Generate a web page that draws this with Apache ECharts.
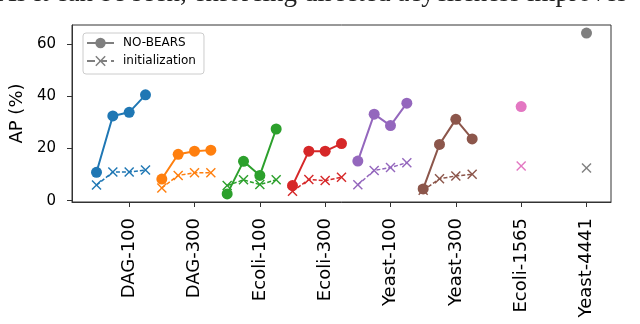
<!DOCTYPE html>
<html>
<head>
<meta charset="utf-8">
<script src="https://cdn.jsdelivr.net/npm/echarts@6/dist/echarts.min.js"></script>
<style>
  html, body { margin: 0; padding: 0; background: #fff; }
  #chart { width: 640px; height: 324px; }
</style>
</head>
<body>
<div id="chart"></div>
<script>
// datasets on the x axis
var categories = ['DAG-100', 'DAG-300', 'Ecoli-100', 'Ecoli-300', 'Yeast-100', 'Yeast-300', 'Ecoli-1565', 'Yeast-4441'];
// position of the 4 runs inside a group (x units)
var runOffsets = [-0.5, -0.25, 0, 0.25];
// AP (%) of NO-BEARS
var noBears = [
  [10.9, 32.5, 33.9, 40.6],
  [8.3, 17.8, 19.0, 19.4],
  [2.6, 15.1, 9.7, 27.5],
  [5.8, 19.0, 19.0, 21.9],
  [15.2, 33.2, 28.8, 37.4],
  [4.5, 21.6, 31.2, 23.7],
  [36.1],
  [64.3]
];
// AP (%) of the initialization
var initialization = [
  [6.0, 11.0, 11.0, 11.8],
  [4.9, 9.7, 10.7, 10.7],
  [5.8, 8.0, 6.2, 8.0],
  [3.6, 8.1, 7.7, 9.0],
  [6.1, 11.6, 12.7, 14.6],
  [4.0, 8.4, 9.5, 10.1],
  [13.3],
  [12.5]
];
var yTicks = [0, 20, 40, 60];
var colors = ['#1f77b4', '#ff7f0e', '#2ca02c', '#d62728', '#9467bd', '#8c564b', '#e377c2', '#7f7f7f'];

var xMark = 'path://M0,1L1,0L5,4L9,0L10,1L6,5L10,9L9,10L5,6L1,10L0,9L4,5Z';

function points(vals, g) {
  var out = [];
  for (var i = 0; i < vals.length; i++) {
    var off = vals.length === 1 ? 0 : runOffsets[i];
    out.push([g + off, vals[i]]);
  }
  return out;
}

var series = [
  { name: 'NO-BEARS', type: 'line', data: [], color: '#7f7f7f', symbol: 'circle', symbolSize: 10, lineStyle: { width: 2 } },
  { name: 'initialization', type: 'line', data: [], color: '#7f7f7f', symbol: xMark, symbolSize: 10, lineStyle: { width: 1.5, type: 'dashed' } }
];
for (var g = 0; g < categories.length; g++) {
  series.push({
    type: 'line', data: points(initialization[g], g), color: colors[g],
    symbol: xMark, symbolSize: 10, showAllSymbol: true,
    lineStyle: { width: 1.5, type: [4, 2] }, z: 2, silent: true
  });
  series.push({
    type: 'line', data: points(noBears[g], g), color: colors[g],
    symbol: 'circle', symbolSize: 11, showAllSymbol: true,
    lineStyle: { width: 2 }, z: 3, silent: true
  });
}

var myChart = echarts.init(document.getElementById('chart'));
myChart.setOption({
  animation: false,
  grid: { left: 72, right: 29, top: 25, bottom: 122, show: true, borderColor: '#333', borderWidth: 1 },
  legend: {
    data: ['NO-BEARS', 'initialization'],
    orient: 'vertical', left: 83, top: 33,
    padding: [4, 8, 7, 3], itemWidth: 27, itemHeight: 13, itemGap: 6,
    borderColor: '#ccc', borderWidth: 1, borderRadius: 3,
    textStyle: { fontFamily: 'DejaVu Sans', fontSize: 12, color: '#000', padding: [0, 0, 0, 4] }
  },
  graphic: [{
    type: 'text', left: -3, top: -20,
    style: { text: 'As it can be seen, enforcing directed acyclicness improves', fontFamily: 'Liberation Serif', fontSize: 27, fill: '#222' }
  }],
  xAxis: {
    type: 'value', min: -0.875, max: 7.375,
    splitLine: { show: false },
    axisLine: { onZero: false, lineStyle: { color: '#333' } },
    axisTick: { customValues: [0, 1, 2, 3, 4, 5, 6, 7], length: 5, lineStyle: { color: '#333' } },
    axisLabel: {
      customValues: [0, 1, 2, 3, 4, 5, 6, 7], rotate: 90, margin: 16,
      fontFamily: 'DejaVu Sans', fontSize: 18, color: '#000',
      formatter: function (v) { return categories[Math.round(v)]; }
    }
  },
  yAxis: {
    type: 'value', min: -0.5, max: 67.4,
    name: 'AP (%)', nameLocation: 'middle', nameGap: 37,
    nameTextStyle: { fontFamily: 'DejaVu Sans', fontSize: 18, color: '#000' },
    splitLine: { show: false },
    axisLine: { onZero: false, lineStyle: { color: '#333' } },
    axisTick: { customValues: yTicks, length: 5, lineStyle: { color: '#333' } },
    axisLabel: { customValues: yTicks, margin: 16, fontFamily: 'DejaVu Sans', fontSize: 15, color: '#000' }
  },
  series: series
});
</script>
</body>
</html>
